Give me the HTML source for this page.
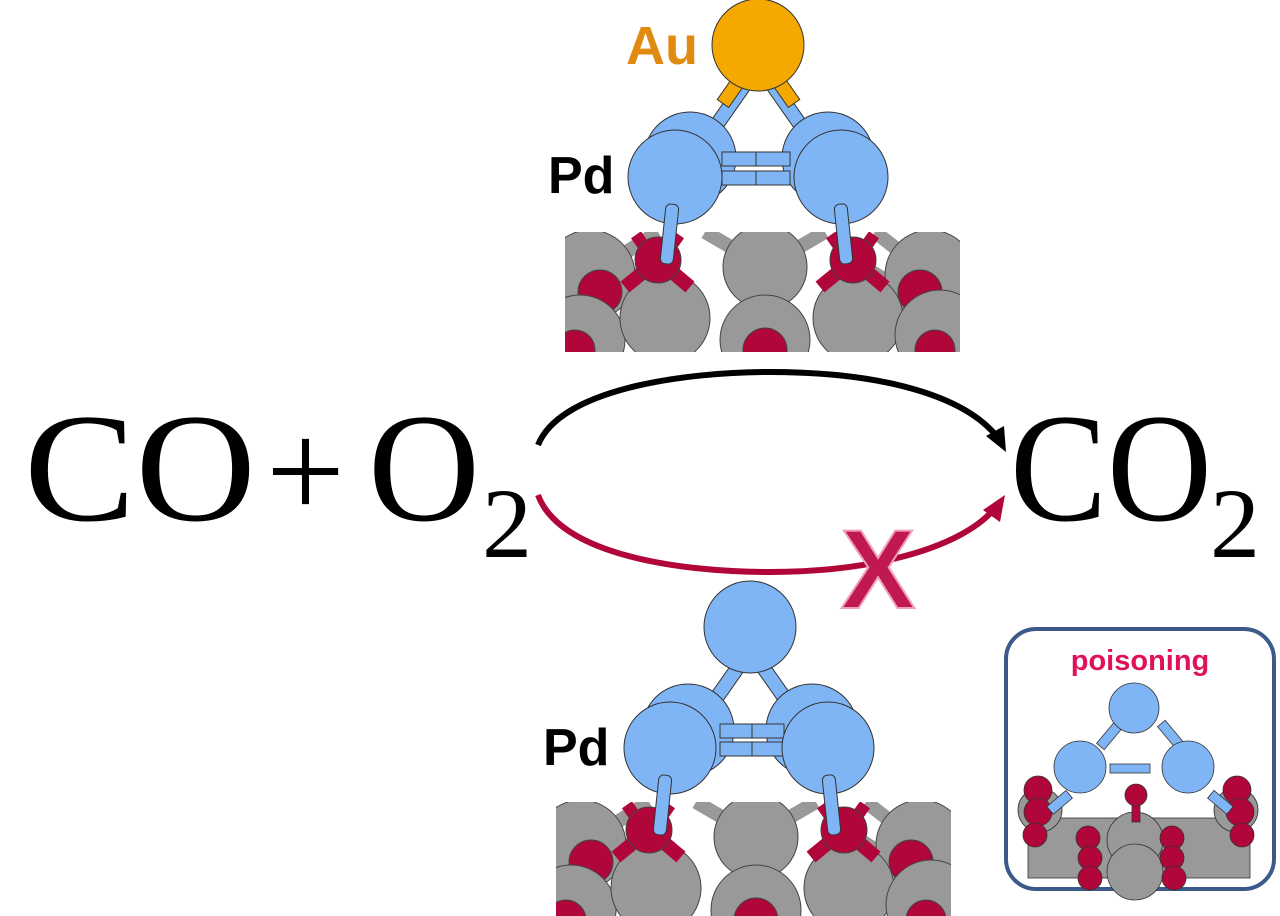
<!DOCTYPE html>
<html><head><meta charset="utf-8"><style>
html,body{margin:0;padding:0;background:#fff;width:1280px;height:916px;overflow:hidden}
svg{display:block}
</style></head><body>
<svg width="1280" height="916" viewBox="0 0 1280 916" xmlns="http://www.w3.org/2000/svg">
<defs>
<clipPath id="cs"><rect x="0" y="0" width="395" height="120"/></clipPath>
<g id="surf">
 <g clip-path="url(#cs)" stroke="#444" stroke-width="1">
  <g stroke="#999" stroke-width="14" stroke-linecap="butt">
   <line x1="25" y1="43" x2="93" y2="0"/><line x1="200" y1="35" x2="140" y2="0"/>
   <line x1="200" y1="35" x2="260" y2="0"/><line x1="365" y1="43" x2="310" y2="0"/>
   <line x1="93" y1="28" x2="35" y2="70"/><line x1="288" y1="28" x2="355" y2="70"/>
   <line x1="30" y1="95" x2="80" y2="95"/><line x1="300" y1="95" x2="370" y2="95"/>
  </g>
  <g stroke="#b0063a" stroke-width="14">
   <line x1="70" y1="12" x2="80" y2="5"/><line x1="115" y1="12" x2="105" y2="5"/>
   <line x1="265" y1="12" x2="275" y2="5"/><line x1="310" y1="12" x2="300" y2="5"/>
  </g>
  <circle cx="25" cy="43" r="45" fill="#999"/>
  <circle cx="200" cy="35" r="42" fill="#999"/>
  <circle cx="365" cy="43" r="45" fill="#999"/>
  <circle cx="35" cy="60" r="22" fill="#b0063a"/>
  <circle cx="355" cy="60" r="22" fill="#b0063a"/>
  <circle cx="15" cy="108" r="45" fill="#999"/>
  <circle cx="100" cy="86" r="45" fill="#999"/>
  <circle cx="293" cy="86" r="45" fill="#999"/>
  <circle cx="375" cy="103" r="45" fill="#999"/>
  <circle cx="200" cy="108" r="45" fill="#999"/>
  <circle cx="10" cy="118" r="20" fill="#b0063a"/>
  <circle cx="200" cy="118" r="22" fill="#b0063a"/>
  <circle cx="370" cy="118" r="20" fill="#b0063a"/>
  <g stroke="#b0063a" stroke-width="14">
   <line x1="93" y1="28" x2="60" y2="55"/><line x1="93" y1="28" x2="125" y2="55"/>
   <line x1="288" y1="28" x2="255" y2="55"/><line x1="288" y1="28" x2="320" y2="55"/>
  </g>
  <circle cx="93" cy="28" r="23" fill="#b0063a"/>
  <circle cx="288" cy="28" r="23" fill="#b0063a"/>
 </g>
</g>
</defs>

<g transform="translate(565,232)"><use href="#surf"/></g>
<g stroke="#333" stroke-width="1">
 <rect x="720" y="80" width="14" height="60" fill="#7fb4f5" transform="rotate(35 727 110)"/>
 <rect x="783" y="80" width="14" height="60" fill="#7fb4f5" transform="rotate(-35 790 110)"/>
 <rect x="724" y="78" width="14" height="28" fill="#f5a800" transform="rotate(35 731 92)"/>
 <rect x="779" y="78" width="14" height="28" fill="#f5a800" transform="rotate(-35 786 92)"/>
 <circle cx="758" cy="45" r="46" fill="#f5a800"/>
 <circle cx="690" cy="158" r="46" fill="#7fb4f5"/>
 <circle cx="828" cy="158" r="46" fill="#7fb4f5"/>
 <rect x="722" y="152" width="34" height="14" fill="#7fb4f5"/><rect x="756" y="152" width="34" height="14" fill="#7fb4f5"/>
 <rect x="722" y="171" width="34" height="14" fill="#7fb4f5"/><rect x="756" y="171" width="34" height="14" fill="#7fb4f5"/>
 <circle cx="675" cy="177" r="47" fill="#7fb4f5"/>
 <circle cx="841" cy="177" r="47" fill="#7fb4f5"/>
 <rect x="663" y="204" width="13" height="60" rx="5" fill="#7fb4f5" transform="rotate(6 669 234)"/>
 <rect x="837" y="204" width="13" height="60" rx="5" fill="#7fb4f5" transform="rotate(-6 843 234)"/>
</g>
<text x="626" y="64" font-family="Liberation Sans, sans-serif" font-weight="bold" font-size="54" fill="#e08a10">Au</text>
<text x="548" y="193" font-family="Liberation Sans, sans-serif" font-weight="bold" font-size="52" fill="#000">Pd</text>

<g transform="translate(556,802)"><use href="#surf"/></g>
<g stroke="#333" stroke-width="1">
 <rect x="715" y="660" width="14" height="60" fill="#7fb4f5" transform="rotate(35 722 690)"/>
 <rect x="772" y="660" width="14" height="60" fill="#7fb4f5" transform="rotate(-35 779 690)"/>
 <circle cx="750" cy="627" r="46" fill="#7fb4f5"/>
 <circle cx="688" cy="730" r="46" fill="#7fb4f5"/>
 <circle cx="812" cy="730" r="46" fill="#7fb4f5"/>
 <rect x="720" y="724" width="32" height="14" fill="#7fb4f5"/><rect x="752" y="724" width="32" height="14" fill="#7fb4f5"/>
 <rect x="720" y="742" width="32" height="14" fill="#7fb4f5"/><rect x="752" y="742" width="32" height="14" fill="#7fb4f5"/>
 <circle cx="670" cy="748" r="46" fill="#7fb4f5"/>
 <circle cx="828" cy="748" r="46" fill="#7fb4f5"/>
 <rect x="656" y="775" width="13" height="60" rx="5" fill="#7fb4f5" transform="rotate(6 662 805)"/>
 <rect x="825" y="775" width="13" height="60" rx="5" fill="#7fb4f5" transform="rotate(-6 831 805)"/>
</g>
<text x="543" y="765" font-family="Liberation Sans, sans-serif" font-weight="bold" font-size="52" fill="#000">Pd</text>

<g font-family="Liberation Serif, serif" fill="#000">
 <text x="24" y="520" font-size="155" textLength="232" lengthAdjust="spacingAndGlyphs">CO</text>
 <text x="266" y="518" font-size="140">+</text>
 <text x="368" y="520" font-size="155" textLength="112" lengthAdjust="spacingAndGlyphs">O</text>
 <text x="482" y="557" font-size="100">2</text>
 <text x="1010" y="520" font-size="155" textLength="202" lengthAdjust="spacingAndGlyphs">CO</text>
 <text x="1210" y="557" font-size="100">2</text>
</g>

<path d="M538,445 C560,390 680,372 770,372 C880,372 965,395 998,438" fill="none" stroke="#000" stroke-width="6"/>
<polygon points="1006,452 986,436 1004,426" fill="#000"/>
<path d="M538,495 C560,555 680,572 770,572 C880,572 965,545 995,508" fill="none" stroke="#b0063a" stroke-width="6"/>
<polygon points="1005,495 983,510 1000,522" fill="#b0063a"/>

<text x="878" y="608" text-anchor="middle" font-family="Liberation Sans, sans-serif" font-weight="bold" font-size="112" fill="#c01850" stroke="#f0a0b8" stroke-width="2">X</text>

<rect x="1006" y="629" width="268" height="260" rx="30" fill="#fff" stroke="#3b5a8a" stroke-width="4"/>
<text x="1140" y="670" text-anchor="middle" font-family="Liberation Sans, sans-serif" font-weight="bold" font-size="29" fill="#e0105a">poisoning</text>
<g stroke="#333" stroke-width="0.8">
 <rect x="1028" y="818" width="222" height="60" fill="#999"/>
 <circle cx="1040" cy="810" r="22" fill="#999"/>
 <circle cx="1236" cy="810" r="22" fill="#999"/>
 <circle cx="1135" cy="840" r="28" fill="#999"/>
 <circle cx="1135" cy="872" r="28" fill="#999"/>
 <circle cx="1038" cy="790" r="14" fill="#b0063a"/><circle cx="1038" cy="812" r="14" fill="#b0063a"/><circle cx="1035" cy="835" r="12" fill="#b0063a"/>
 <circle cx="1237" cy="790" r="14" fill="#b0063a"/><circle cx="1240" cy="812" r="14" fill="#b0063a"/><circle cx="1242" cy="835" r="12" fill="#b0063a"/>
 <circle cx="1088" cy="838" r="12" fill="#b0063a"/><circle cx="1090" cy="858" r="12" fill="#b0063a"/><circle cx="1090" cy="878" r="12" fill="#b0063a"/>
 <circle cx="1172" cy="838" r="12" fill="#b0063a"/><circle cx="1172" cy="858" r="12" fill="#b0063a"/><circle cx="1174" cy="878" r="12" fill="#b0063a"/>
 <rect x="1105" y="720" width="10" height="30" fill="#7fb4f5" transform="rotate(40 1110 735)"/>
 <rect x="1166" y="720" width="10" height="30" fill="#7fb4f5" transform="rotate(-40 1171 735)"/>
 <rect x="1110" y="764" width="40" height="9" fill="#7fb4f5"/>
 <rect x="1055" y="790" width="10" height="25" fill="#7fb4f5" transform="rotate(50 1060 802)"/>
 <rect x="1215" y="790" width="10" height="25" fill="#7fb4f5" transform="rotate(-50 1220 802)"/>
 <circle cx="1134" cy="708" r="25" fill="#7fb4f5"/>
 <circle cx="1080" cy="767" r="26" fill="#7fb4f5"/>
 <circle cx="1188" cy="767" r="26" fill="#7fb4f5"/>
 <rect x="1132" y="800" width="8" height="22" fill="#b0063a"/>
 <circle cx="1136" cy="795" r="11" fill="#b0063a"/>
</g>
</svg>
</body></html>
